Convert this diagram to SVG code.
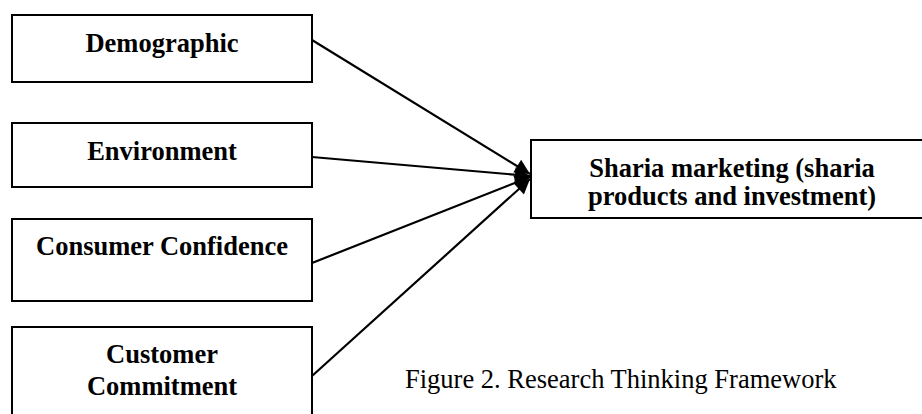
<svg xmlns="http://www.w3.org/2000/svg" width="922" height="414" viewBox="0 0 922 414">
<style>
  .box { fill: #fff; stroke: #000; stroke-width: 2; }
  .lbl { font-family: "Liberation Serif", "Times New Roman", serif; font-weight: bold; font-size: 26.5px; text-anchor: middle; fill: #000; }
  .cap { font-family: "Liberation Serif", "Times New Roman", serif; font-size: 26.5px; fill: #000; }
  .edge { stroke: #000; stroke-width: 2.2; fill: none; marker-end: url(#ah); }
</style>
<defs>
  <marker id="ah" viewBox="0 0 10 10" refX="10" refY="5" markerUnits="userSpaceOnUse" markerWidth="18" markerHeight="15" orient="auto">
    <path d="M0,0 L10,5 L0,10 z" fill="#000"/>
  </marker>
</defs>
<rect width="922" height="414" fill="#fff"/>
<g id="demographic">
  <rect class="box" x="12" y="15" width="300" height="67"/>
  <text class="lbl" x="162" y="52">Demographic</text>
</g>
<g id="environment">
  <rect class="box" x="12" y="123" width="300" height="64"/>
  <text class="lbl" x="162" y="160">Environment</text>
</g>
<g id="consumer-confidence">
  <rect class="box" x="12" y="219" width="300" height="82"/>
  <text class="lbl" x="162" y="255">Consumer Confidence</text>
</g>
<g id="customer-commitment">
  <rect class="box" x="12" y="327" width="300" height="110"/>
  <text class="lbl" x="162" y="363">Customer</text>
  <text class="lbl" x="162" y="395">Commitment</text>
</g>
<g id="sharia-marketing">
  <rect class="box" x="531" y="140" width="402" height="78"/>
  <text class="lbl" x="732" y="177">Sharia marketing (sharia</text>
  <text class="lbl" x="732" y="205">products and investment)</text>
</g>
<g id="connectors">
  <line class="edge" x1="312" y1="40" x2="530" y2="174"/>
  <line class="edge" x1="312" y1="157" x2="530" y2="176"/>
  <line class="edge" x1="312" y1="263" x2="530" y2="177"/>
  <line class="edge" x1="312" y1="376" x2="530" y2="179"/>
</g>
<text class="cap" x="405" y="388">Figure 2. Research Thinking Framework</text>
</svg>
